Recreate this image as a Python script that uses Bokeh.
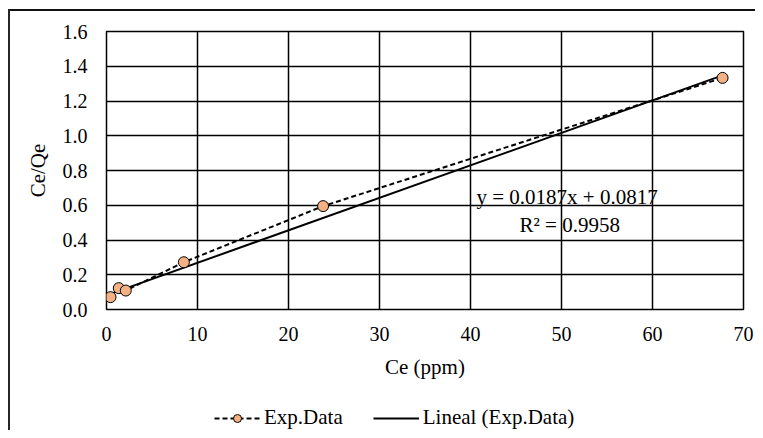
from bokeh.plotting import figure
from bokeh.layouts import column
from bokeh.models import (FixedTicker, Legend, LegendItem, Range1d,
                          CustomJSTickFormatter)
from bokeh.core.properties import value
from bokeh.embed import file_html
from bokeh.resources import INLINE

# data
ce = [0.44, 1.35, 2.12, 8.5, 23.8, 67.7]
ce_qe = [0.071, 0.123, 0.109, 0.272, 0.595, 1.333]
slope = 0.0187
intercept = 0.0817
eq_text = "y = 0.0187x + 0.0817"
r2_text = "R\u00b2 = 0.9958"
x_ticks = [0, 10, 20, 30, 40, 50, 60, 70]
y_ticks = [0.0, 0.2, 0.4, 0.6, 0.8, 1.0, 1.2, 1.4, 1.6]
legend_labels = ["Exp.Data", "Lineal (Exp.Data)"]

FONT = "Liberation Serif"
MARKER_FILL = "#F4B183"

p = figure(width=755, height=385, output_backend="svg", toolbar_location=None,
           x_range=Range1d(0, 70), y_range=Range1d(0, 1.6),
           min_border_left=106, min_border_top=31, min_border_right=12,
           min_border_bottom=76)
p.border_fill_color = None
p.background_fill_color = "white"
p.outline_line_color = "black"
p.outline_line_width = 1.5

for ax in (p.xaxis[0], p.yaxis[0]):
    ax.major_label_text_font = FONT
    ax.major_label_text_font_size = "20px"
    ax.major_label_text_color = "black"
    ax.axis_label_text_font = FONT
    ax.axis_label_text_font_size = "21px"
    ax.axis_label_text_font_style = "normal"
    ax.axis_label_text_color = "black"
    ax.major_tick_out = 0
    ax.major_tick_in = 0
    ax.minor_tick_out = 0
    ax.minor_tick_in = 0
    ax.axis_line_color = None

p.xaxis.ticker = FixedTicker(ticks=x_ticks)
p.yaxis.ticker = FixedTicker(ticks=y_ticks)
p.yaxis.formatter = CustomJSTickFormatter(code="return tick.toFixed(1);")
p.xaxis.axis_label = "Ce (ppm)"
p.yaxis.axis_label = "Ce/Qe"
p.xaxis.major_label_standoff = 17
p.yaxis.major_label_standoff = 19
p.xaxis.axis_label_standoff = 11
p.yaxis.axis_label_standoff = 10

p.xgrid.ticker = FixedTicker(ticks=x_ticks)
p.ygrid.ticker = FixedTicker(ticks=y_ticks)
for g in (p.xgrid[0], p.ygrid[0]):
    g.grid_line_color = "black"
    g.grid_line_width = 1.5
    g.grid_line_alpha = 1.0

# trendline
tx = [min(ce), max(ce)]
ty = [slope * v + intercept for v in tx]
p.line(tx, ty, line_color="black", line_width=2)

p.line(ce, ce_qe, line_color="black", line_width=2, line_dash="5 3")
p.scatter(ce, ce_qe, size=11, fill_color=MARKER_FILL, line_color="black",
          line_width=1)

p.text(x=[40.66], y=[0.650], text=[eq_text], text_font=value(FONT),
       text_font_size="21px", text_baseline="middle", text_align="left",
       text_color="black")
p.text(x=[50.9], y=[0.489], text=[r2_text], text_font=value(FONT),
       text_font_size="21px", text_baseline="middle", text_align="center",
       text_color="black")

# legend strip below the chart (its data lies outside this strip's ranges,
# so only the legend swatches are visible)
lf = figure(width=755, height=45, output_backend="svg", toolbar_location=None,
            x_range=Range1d(0, 70), y_range=Range1d(100, 101), min_border=0)
lf.border_fill_color = None
lf.background_fill_color = None
lf.outline_line_color = None
lf.axis.visible = False
lf.grid.visible = False
l_dash = lf.line(ce, ce_qe, line_color="black", line_width=2, line_dash="5 3")
l_pts = lf.scatter(ce, ce_qe, size=11, fill_color=MARKER_FILL,
                   line_color="black", line_width=1)
l_trend = lf.line(tx, ty, line_color="black", line_width=2)
legend = Legend(items=[LegendItem(label=legend_labels[0], renderers=[l_dash, l_pts]),
                       LegendItem(label=legend_labels[1], renderers=[l_trend])],
                orientation="horizontal", location=(108, 0),
                label_text_font=FONT, label_text_font_size="21px",
                label_text_color="black", glyph_width=46, label_standoff=4,
                spacing=30, border_line_color=None, background_fill_alpha=0,
                margin=0, padding=2)
lf.add_layout(legend, "center")

layout = column(p, lf, spacing=0)
layout.styles = {
    "background": ("linear-gradient(#262626,#262626) 8px 9px / 2px 100% no-repeat, "
                   "linear-gradient(#111,#111) 8px 9px / 100% 2px no-repeat, white"),
}

open("out.html", "w").write(file_html(layout, INLINE))
